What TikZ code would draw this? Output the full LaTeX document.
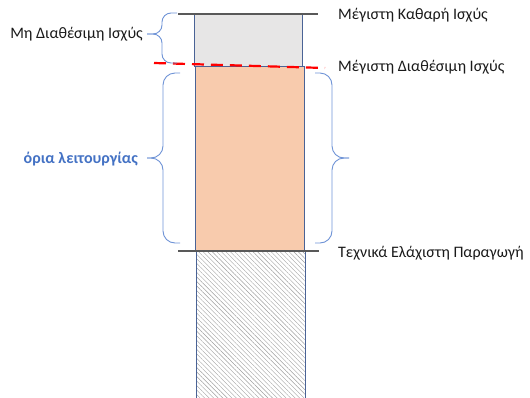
\documentclass[tikz,border=0pt]{standalone}
\usepackage{fontspec}
\setmainfont{Carlito}
\usetikzlibrary{patterns.meta}
\definecolor{boxline}{HTML}{4A6396}
\definecolor{bracecol}{HTML}{6E93D6}
\definecolor{capfill}{HTML}{E7E6E6}
\definecolor{opfill}{HTML}{F8CBAD}
\definecolor{limline}{HTML}{595959}
\definecolor{txtcol}{HTML}{1A1A1A}
\definecolor{limtxt}{HTML}{4472C4}
\begin{document}
\begin{tikzpicture}[x=1pt, y=-1pt, font=\fontsize{16}{19}\selectfont,
    lbl/.style={text=txtcol, inner sep=0pt},
    brc/.style={draw=bracecol, line width=0.9pt, rounded corners=12pt},
    colbox/.style={draw=boxline, line width=0.8pt}]
    \useasboundingbox (0,0) rectangle (530,397);
    % column
    \filldraw[colbox, fill=capfill] (194,14) rectangle (302,66);
    \filldraw[colbox, fill=opfill] (195,66) rectangle (304,251);
    \draw[colbox, pattern={Lines[angle=-45, distance=3.2pt, line width=0.4pt]}, pattern color=black!38] (196,251) rectangle (305,398);
    % limits
    \draw[limline, line width=2.2pt] (178,14) -- (318,14);
    \draw[limline, line width=2.2pt] (178,251) -- (319,251);
    \draw[red, line width=2.2pt, dash pattern=on 12pt off 7pt] (154,63) -- (325,68);
    % braces
    \draw[brc, rounded corners=9pt] (177,13) -- (162,13) -- (162,34) -- (147,34);
    \draw[brc, rounded corners=9pt] (177,63) -- (162,63) -- (162,34) -- (147,34);
    \draw[brc] (180,73) -- (163,73) -- (163,158) -- (147,158);
    \draw[brc] (180,243) -- (163,243) -- (163,158) -- (147,158);
    \draw[brc] (315,73) -- (332,73) -- (332,158) -- (349,158);
    \draw[brc] (315,243) -- (332,243) -- (332,158) -- (349,158);
    % labels
    \node[lbl, anchor=west] (maxnet) at (338,15) {Μέγιστη Καθαρή Ισχύς};
    \node[lbl, anchor=west] (maxavail) at (338,67) {Μέγιστη Διαθέσιμη Ισχύς};
    \node[lbl, anchor=west] (techmin) at (338,253) {Τεχνικά Ελάχιστη Παραγωγή};
    \node[lbl, anchor=east] (unavail) at (143,34) {Μη Διαθέσιμη Ισχύς};
    \node[lbl, anchor=east, text=limtxt, font=\fontsize{16}{19}\selectfont\bfseries] (limits) at (138,159) {όρια λειτουργίας};
\end{tikzpicture}
\end{document}
